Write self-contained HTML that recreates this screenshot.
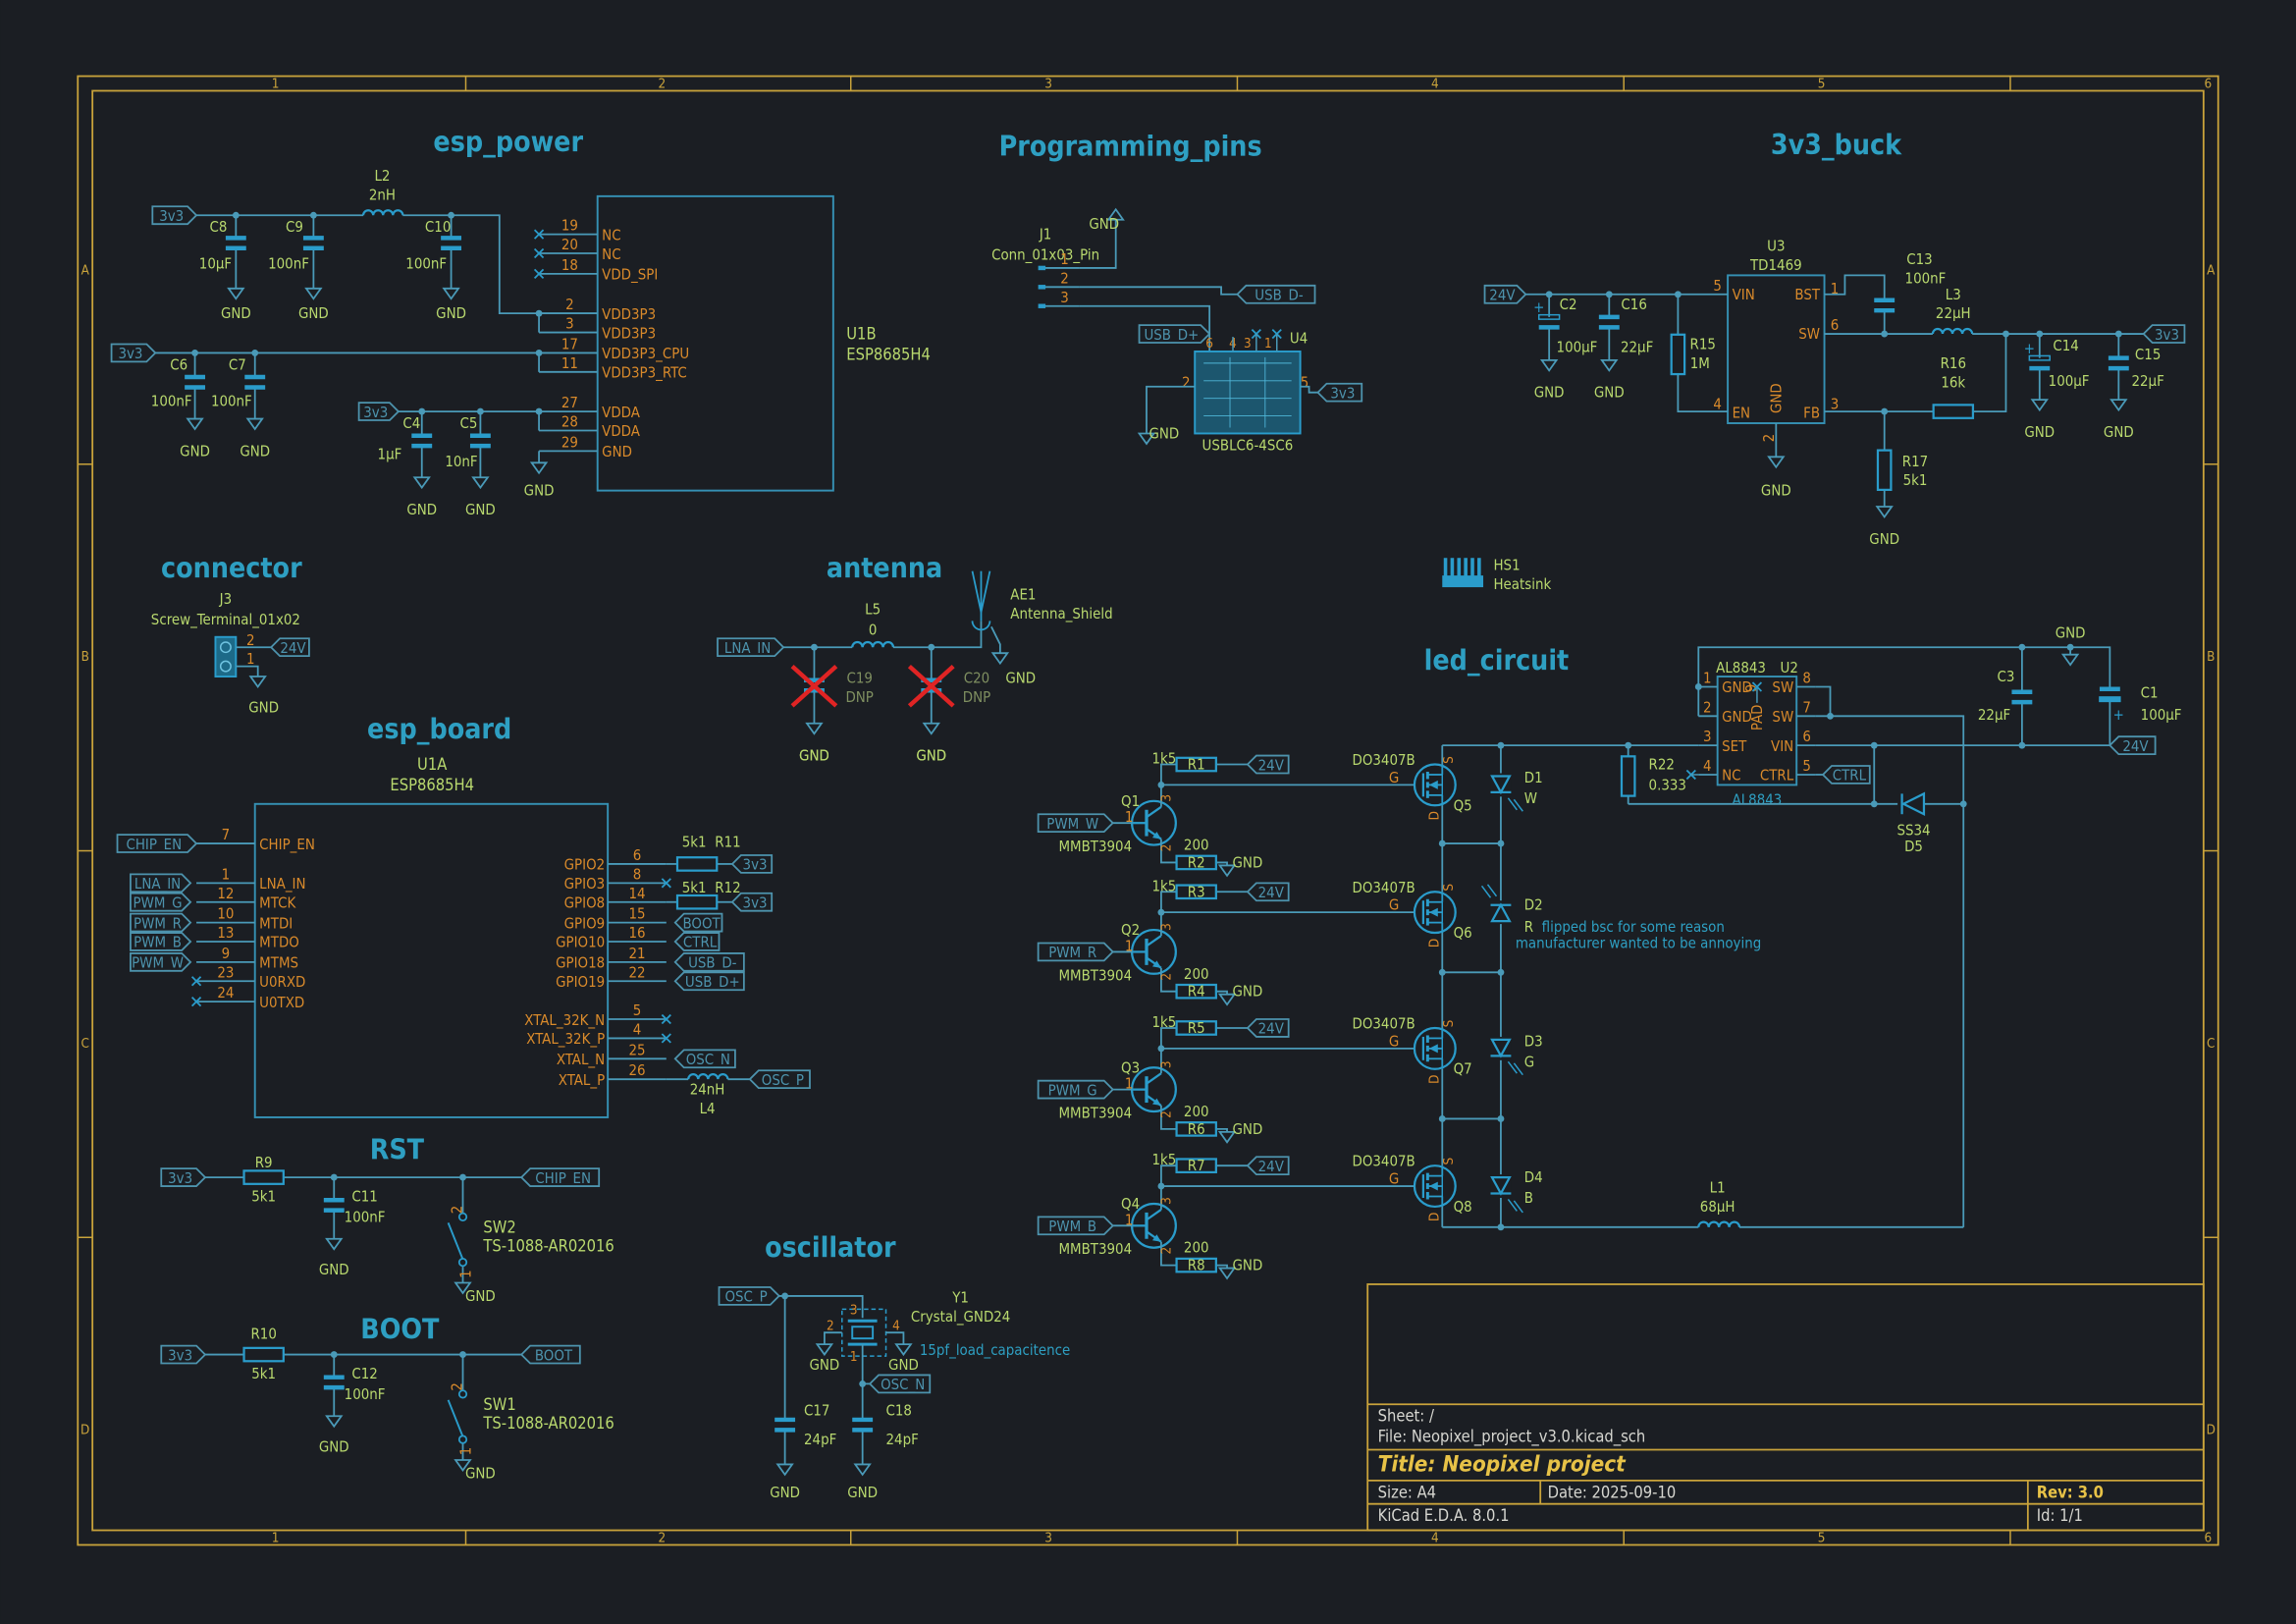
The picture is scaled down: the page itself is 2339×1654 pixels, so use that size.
<!DOCTYPE html>
<html><head><meta charset="utf-8"><style>
html,body{margin:0;padding:0;background:#1b1e23;}
svg{display:block}
text{font-family:"DejaVu Sans Condensed","DejaVu Sans","Liberation Sans",sans-serif;}
</style></head><body>
<svg id="s" xmlns="http://www.w3.org/2000/svg" width="2339" height="1654" viewBox="0 0 1568 1109">
<rect width="1568" height="1109" fill="#1b1e23"/>
</svg>
<script>
const S=document.getElementById('s');
const WC='#4a9ab8',BC='#2a9ccb',TV='#b8d86e',PN='#d98a2b',TL='#4d93ad',FR='#c9a33b',TT='#2e9fc2';
function el(tag,a,txt){const e=document.createElementNS('http://www.w3.org/2000/svg',tag);for(const k in a)e.setAttribute(k,a[k]);if(txt!==undefined)e.textContent=txt;S.appendChild(e);return e;}
function w(...p){el('polyline',{points:p.map(q=>q.join(',')).join(' '),fill:'none',stroke:WC,'stroke-width':1.2});}
function ln(x1,y1,x2,y2,c,sw){el('line',{x1,y1,x2,y2,stroke:c||BC,'stroke-width':sw||1.3});}
function j(x,y){el('circle',{cx:x,cy:y,r:2.3,fill:WC});}
function t(x,y,s,c,sz,an,wt,extra){const a={x,y,fill:c||TV,'font-size':sz||10,'text-anchor':an||'middle','dominant-baseline':'central'};if(wt)a['font-weight']=wt;if(extra)Object.assign(a,extra);return el('text',a,s);}
function g(x,y,ty,tx){el('polygon',{points:`${x-5},${y} ${x+5},${y} ${x},${y+7}`,fill:'none',stroke:WC,'stroke-width':1.2});if(ty)t(tx||x,ty,'GND');}
function cap(x,yc,y1,y2,pol){w([x,y1],[x,yc-3.5]);w([x,yc+3.5],[x,y2]);
 if(pol){el('rect',{x:x-7,y:yc-5,width:14,height:3,fill:'none',stroke:BC,'stroke-width':1});ln(x-7,yc+3.5,x+7,yc+3.5,BC,3);t(x-7,yc-10,'+',BC,10);}
 else{ln(x-7,yc-3.5,x+7,yc-3.5,BC,3);ln(x-7,yc+3.5,x+7,yc+3.5,BC,3);}}
function rh(cx,cy){el('rect',{x:cx-13.5,y:cy-4.5,width:27,height:9,fill:'none',stroke:BC,'stroke-width':1.5});}
function rv(cx,cy){el('rect',{x:cx-4.5,y:cy-13.5,width:9,height:27,fill:'none',stroke:BC,'stroke-width':1.5});}
function ind(x1,x2,y){const n=4,d=(x2-x1)/n;let p=`M${x1},${y}`;for(let i=0;i<n;i++)p+=` a${d/2},${d/2} 0 0 1 ${d},0`;el('path',{d:p,fill:'none',stroke:BC,'stroke-width':1.5});}
function lab(x1,x2,y,s,tip){let p;if(tip=='r')p=`${x1},${y-6} ${x2-6},${y-6} ${x2},${y} ${x2-6},${y+6} ${x1},${y+6}`;else p=`${x1},${y} ${x1+6},${y-6} ${x2},${y-6} ${x2},${y+6} ${x1+6},${y+6}`;
 el('polygon',{points:p,fill:'none',stroke:TL,'stroke-width':1.2});t((x1+x2)/2+(tip=='r'?-2:2),y+0.5,s,TL,10);}
function nc(x,y){ln(x-3,y-3,x+3,y+3,BC,1.2);ln(x-3,y+3,x+3,y-3,BC,1.2);}
function title(x,y,s){t(x,y,s,TT,19,'middle','bold');}

// ===== frame =====
el('rect',{x:53,y:52,width:1462,height:1003,fill:'none',stroke:FR,'stroke-width':1.2});
el('rect',{x:63,y:62,width:1442,height:983,fill:'none',stroke:FR,'stroke-width':1.2});
[318,581,845,1109,1373].forEach(x=>{ln(x,52,x,62,FR,1);ln(x,1045,x,1055,FR,1);});
[317,581,845].forEach(y=>{ln(53,y,63,y,FR,1);ln(1505,y,1515,y,FR,1);});
[188,452,716,980,1244,1508].forEach((x,i)=>{t(x,57.5,String(i+1),FR,9);t(x,1050.5,String(i+1),FR,9);});
['A','B','C','D'].forEach((c,i)=>{const y=185+i*264;t(58,y,c,FR,9);t(1510,y,c,FR,9);});

// ===== titles =====
title(347,97,'esp_power');title(772,100,'Programming_pins');title(1254,99,'3v3_buck');
title(158,388,'connector');title(604,388,'antenna');title(300,498,'esp_board');
title(271,785,'RST');title(273,908,'BOOT');title(567,852,'oscillator');title(1022,451,'led_circuit');

// ===== esp_power =====
lab(104,134,147,'3v3','r');
w([134,147],[248,147]);ind(248,275,147);w([275,147],[341,147],[341,214],[408,214]);
[161,214,308].forEach(x=>{j(x,147);cap(x,166,147,197);g(x,197,214);});
t(149,155,'C8');t(147,180,'10µF');t(201,155,'C9');t(197,180,'100nF');t(299,155,'C10');t(291,180,'100nF');
t(261,120,'L2');t(261,133,'2nH');
el('rect',{x:408,y:134,width:161,height:201,fill:'none',stroke:'#3590b3','stroke-width':1.3});
[[160,'19','NC',1],[173,'20','NC',1],[187,'18','VDD_SPI',1],[214,'2','VDD3P3'],[227,'3','VDD3P3'],[241,'17','VDD3P3_CPU'],[254,'11','VDD3P3_RTC'],[281,'27','VDDA'],[294,'28','VDDA'],[308,'29','GND']].forEach(([y,n,nm,x])=>{
 ln(368,y,408,y,WC,1.2);t(389,y-6,n,PN,10);t(411,y+0.5,nm,PN,10,'start');if(x)nc(368,y);});
j(368,214);w([368,214],[368,227]);j(368,241);w([368,241],[368,254]);j(368,281);w([368,281],[368,294]);
w([368,308],[368,316]);g(368,316,335);
t(578,228,'U1B',TV,11,'start');t(578,242,'ESP8685H4',TV,11,'start');
lab(76,106,241,'3v3','r');w([106,241],[368,241]);
[133,174].forEach(x=>{j(x,241);cap(x,261,241,286);g(x,286,308);});
t(122,249,'C6');t(117,274,'100nF');t(162,249,'C7');t(158,274,'100nF');
lab(245,272,281,'3v3','r');w([272,281],[368,281]);
[288,328].forEach(x=>{j(x,281);cap(x,301,281,326);g(x,326,348);});
t(281,289,'C4');t(266,310,'1µF');t(320,289,'C5');t(315,315,'10nF');

// ===== programming pins =====
t(714,160,'J1');t(714,174,'Conn_01x03_Pin');
[[183,'1'],[196,'2'],[209,'3']].forEach(([y,n])=>{ln(710,y,737,y,WC,1.2);el('rect',{x:709,y:y-1.5,width:5,height:3,fill:BC});t(727,y-6,n,PN,10);});
w([737,183],[762,183],[762,150]);el('polygon',{points:'757,150 767,150 762,143',fill:'none',stroke:WC,'stroke-width':1.2});t(754,153,'GND');
w([737,196],[834,196],[834,201],[845,201]);lab(845,898,201,'USB_D-','l');
w([737,209],[826,209],[826,240]);lab(778,826,228,'USB_D+','r');
el('rect',{x:816,y:240,width:72,height:56,fill:'#1d6a88','fill-opacity':0.75,stroke:BC,'stroke-width':1.3});
for(let i=0;i<4;i++){ln(822,248+i*12,882,248+i*12,'#4fb6d8',0.6);}
ln(840,244,840,292,'#4fb6d8',0.6);ln(864,244,864,292,'#4fb6d8',0.6);
[[826,'6'],[842,'4'],[852,'3'],[866,'1']].forEach(([x,n])=>t(x,235,n,PN,9));
nc(858,228);nc(872,228);ln(858,228,858,240,WC,1);ln(872,228,872,240,WC,1);ln(842,230,842,240,WC,1);
t(887,231,'U4');t(810,261,'2',PN,10);t(891,261,'5',PN,10);
w([816,264],[783,264],[783,296]);g(783,296);t(795,296,'GND');
w([888,264],[894,264],[894,268],[900,268]);lab(900,930,268,'3v3','l');
t(852,304,'USBLC6-4SC6');

// ===== 3v3 buck =====
t(1213,168,'U3');t(1213,181,'TD1469');
el('rect',{x:1180,y:188,width:66,height:101,fill:'none',stroke:'#3590b3','stroke-width':1.3});
t(1183,201,'VIN',PN,10,'start');t(1183,282,'EN',PN,10,'start');t(1243,201,'BST',PN,10,'end');t(1243,228,'SW',PN,10,'end');t(1243,282,'FB',PN,10,'end');
t(1213,272,'GND',PN,10,'middle',null,{transform:'rotate(-90 1213 272)'});
t(1173,195,'5',PN,10);t(1173,276,'4',PN,10);t(1253,197,'1',PN,10);t(1253,222,'6',PN,10);t(1253,276,'3',PN,10);t(1208,299,'2',PN,10,'middle',null,{transform:'rotate(-90 1208 299)'});
lab(1014,1042,201,'24V','r');w([1042,201],[1180,201]);
j(1058,201);cap(1058,220,201,246,1);g(1058,246,268);t(1071,208,'C2');t(1077,237,'100µF');
j(1099,201);cap(1099,220,201,246);g(1099,246,268);t(1116,208,'C16');t(1118,237,'22µF');
j(1146,201);w([1146,201],[1146,228]);rv(1146,242);w([1146,256],[1146,281],[1180,281]);t(1163,235,'R15');t(1161,248,'1M');
w([1213,289],[1213,312]);g(1213,312,335);
w([1246,201],[1260,201],[1260,188],[1287,188],[1287,205]);cap(1287,208.5,205,228);
w([1287,205],[1287,205]);t(1311,177,'C13');t(1315,190,'100nF');
w([1246,228],[1320,228]);ind(1320,1347,228);w([1347,228],[1464,228]);j(1287,228);j(1370,228);j(1393,228);j(1447,228);
lab(1464,1492,228,'3v3','l');t(1334,201,'L3');t(1334,214,'22µH');
cap(1393,248,228,273,1);g(1393,273,295);t(1411,236,'C14');t(1413,260,'100µF');
cap(1447,248,228,273);g(1447,273,295);t(1467,242,'C15');t(1467,260,'22µF');
w([1246,281],[1320,281]);rh(1334,281);w([1348,281],[1370,281],[1370,228]);j(1287,281);t(1334,248,'R16');t(1334,261,'16k');
w([1287,281],[1287,308]);rv(1287,321);w([1287,335],[1287,346]);g(1287,346,368);t(1308,315,'R17');t(1308,328,'5k1');

// heatsink
el('rect',{x:985,y:393,width:28,height:8,fill:BC});
for(let i=0;i<6;i++)el('rect',{x:986+i*4.6,y:381,width:2.4,height:13,fill:BC});
t(1020,386,'HS1',TV,10,'start');t(1020,399,'Heatsink',TV,10,'start');

// ===== connector =====
t(154,409,'J3');t(154,423,'Screw_Terminal_01x02');
el('rect',{x:147,y:435,width:14,height:27,fill:'#1d6a88',stroke:BC,'stroke-width':1.3});
el('circle',{cx:154,cy:442,r:3.5,fill:'none',stroke:'#6fc3e0','stroke-width':1});el('circle',{cx:154,cy:455,r:3.5,fill:'none',stroke:'#6fc3e0','stroke-width':1});
w([161,442],[185,442]);lab(185,211,442,'24V','l');t(171,437,'2',PN,10);t(171,450,'1',PN,10);
w([161,455],[176,455],[176,462]);g(176,462);t(180,483,'GND');

// ===== antenna =====
lab(490,535,442,'LNA_IN','r');w([535,442],[582,442]);ind(582,610,442);w([610,442],[670,442],[670,424]);
t(596,416,'L5');t(596,430,'0');
[556,636].forEach(x=>{j(x,442);cap(x,468,442,494);g(x,494,516);ln(x-15,455,x+15,482,'#e02424',3);ln(x-15,482,x+15,455,'#e02424',3);});
t(587,463,'C19','#7f8f60');t(587,476,'DNP','#7f8f60');t(667,463,'C20','#7f8f60');t(667,476,'DNP','#7f8f60');
t(556,516,'GND');t(636,516,'GND');
ln(670,390,670,424,BC,1.2);ln(670,418,664,390,BC,1.2);ln(670,418,676,390,BC,1.2);
el('path',{d:'M664,424 a6,6 0 0 0 12,0',fill:'none',stroke:BC,'stroke-width':1.2});
w([677,428],[683,440],[683,446]);g(683,446);t(697,463,'GND');
t(690,406,'AE1',TV,10,'start');t(690,419,'Antenna_Shield',TV,10,'start');

// ===== esp_board =====
t(295,522,'U1A',TV,11);t(295,536,'ESP8685H4',TV,11);
el('rect',{x:174,y:549,width:241,height:214,fill:'none',stroke:'#3590b3','stroke-width':1.3});
[[576,'7','CHIP_EN','CHIP_EN',80],[603,'1','LNA_IN','LNA_IN',89],[616,'12','MTCK','PWM_G',89],[630,'10','MTDI','PWM_R',89],[643,'13','MTDO','PWM_B',89],[657,'9','MTMS','PWM_W',89],[670,'23','U0RXD'],[684,'24','U0TXD']].forEach(([y,n,nm,l,x1])=>{
 ln(134,y,174,y,WC,1.2);t(154,y-6,n,PN,10);t(177,y+0.5,nm,PN,10,'start');
 if(l){lab(x1,x1==80?134:130,y,l,'r');}else nc(134,y);});
[[590,'6','GPIO2'],[603,'8','GPIO3'],[616,'14','GPIO8'],[630,'15','GPIO9'],[643,'16','GPIO10'],[657,'21','GPIO18'],[670,'22','GPIO19'],[696,'5','XTAL_32K_N'],[709,'4','XTAL_32K_P'],[723,'25','XTAL_N'],[737,'26','XTAL_P']].forEach(([y,n,nm])=>{
 ln(415,y,455,y,WC,1.2);t(435,y-6,n,PN,10);t(413,y+0.5,nm,PN,10,'end');});
nc(455,603);nc(455,696);nc(455,709);
w([455,590],[463,590]);rh(476,590);w([490,590],[500,590]);lab(500,527,590,'3v3','l');
w([455,616],[463,616]);rh(476,616);w([490,616],[500,616]);lab(500,527,616,'3v3','l');
t(474,575,'5k1');t(497,575,'R11');t(474,606,'5k1');t(497,606,'R12');
lab(461,493,630,'BOOT','l');lab(461,491,643,'CTRL','l');lab(461,508,657,'USB_D-','l');lab(461,508,670,'USB_D+','l');lab(461,502,723,'OSC_N','l');
w([455,737],[470,737]);ind(470,497,737);w([497,737],[512,737]);lab(512,553,737,'OSC_P','l');
t(483,744,'24nH');t(483,757,'L4');

// ===== RST / BOOT =====
function rstb(y,rn,cn,sn,lbl,lx2){
 lab(110,140,y,'3v3','r');w([140,y],[167,y]);rh(180,y);w([194,y],[356,y]);t(180,y-(rn=='R9'?10:14),rn);t(180,y+13,'5k1');
 j(228,y);cap(228,y+19,y,y+42);g(228,y+42,y+63);t(249,y+13,cn);t(249,y+27,'100nF');
 lab(356,lx2,y,lbl,'l');
 j(316,y);w([316,y],[316,y+24]);el('circle',{cx:316,cy:y+27,r:2.5,fill:'none',stroke:BC,'stroke-width':1.2});
 ln(316,y+56,306,y+31,BC,1.3);el('circle',{cx:316,cy:y+58,r:2.5,fill:'none',stroke:BC,'stroke-width':1.2});
 w([316,y+61],[316,y+72]);g(316,y+72);t(328,y+81,'GND');
 t(312,y+22,'2',PN,10,'middle',null,{transform:`rotate(-90 312 ${y+22})`});t(312,y+72,'1',PN,10,'middle',null,{transform:`rotate(-90 312 ${y+66})`});
 t(330,y+34,sn,TV,11,'start');t(330,y+47,'TS-1088-AR02016',TV,11,'start');}
rstb(804,'R9','C11','SW2','CHIP_EN',409);
rstb(925,'R10','C12','SW1','BOOT',396);

// ===== oscillator =====
lab(491,532,885,'OSC_P','r');w([532,885],[589,885],[589,900]);j(536,885);
cap(536,973,885,1000);g(536,1000,1019);t(549,963,'C17',TV,10,'start');t(549,983,'24pF',TV,10,'start');
el('rect',{x:575,y:894,width:30,height:32,fill:'none',stroke:BC,'stroke-width':1,'stroke-dasharray':'3,2'});
ln(579,902,599,902,BC,2);ln(579,918,599,918,BC,2);el('rect',{x:582,y:906,width:14,height:8,fill:'none',stroke:BC,'stroke-width':1.3});
w([589,918],[589,945],[594,945]);j(589,945);lab(594,635,945,'OSC_N','l');
w([575,910],[563,910],[563,918]);g(563,918);t(563,932,'GND');w([605,910],[617,910],[617,918]);g(617,918);t(617,932,'GND');
t(567,906,'2',PN,9);t(612,906,'4',PN,9);t(583,895,'3',PN,9);t(583,927,'1',PN,9);
cap(589,973,945,1000);g(589,1000,1019);t(605,963,'C18',TV,10,'start');t(605,983,'24pF',TV,10,'start');
t(656,886,'Y1');t(656,899,'Crystal_GND24');t(628,922,'15pf_load_capacitence',TT,10,'start');

// ===== led circuit =====
// AL8843
el('rect',{x:1173,y:462,width:54,height:74,fill:'none',stroke:'#3590b3','stroke-width':1.3});
t(1172,456,'AL8843',TV,10,'start');t(1222,456,'U2',TV,10);
[[469,'1','GND'],[489,'2','GND'],[509,'3','SET'],[529,'4','NC']].forEach(([y,n,nm])=>{ln(1160,y,1173,y,WC,1.2);t(1166,y-6,n,PN,10);t(1176,y+0.5,nm,PN,10,'start');});
[[469,'8','SW'],[489,'7','SW'],[509,'6','VIN'],[529,'5','CTRL']].forEach(([y,n,nm])=>{ln(1227,y,1240,y,WC,1.2);t(1234,y-6,n,PN,10);t(1225,y+0.5,nm,PN,10,'end');});
t(1200,490,'PAD',PN,10,'middle',null,{transform:'rotate(-90 1200 490)'});t(1196,470,'9',PN,10,'middle',null,{transform:'rotate(-90 1196 470)'});
ln(1200,470,1200,480,WC,1);nc(1200,469);nc(1155,529);ln(1155,529,1160,529,WC,1);
t(1200,546,'AL8843',TT,10);
w([1160,469],[1160,442],[1441,442],[1441,465]);j(1160,469);w([1160,469],[1160,489]);
j(1381,442);cap(1381,476,442,509);j(1414,442);w([1414,442],[1414,447]);g(1414,447);t(1414,432,'GND');
cap(1441,474,465,509,0);el('rect',{x:1434,y:476,width:14,height:3,fill:'none',stroke:BC,'stroke-width':1});t(1447,488,'+',BC,10);
t(1370,462,'C3');t(1362,488,'22µF');t(1462,473,'C1',TV,10,'start');t(1462,488,'100µF',TV,10,'start');
w([1240,509],[1441,509]);j(1280,509);j(1381,509);lab(1441,1472,509,'24V','l');
w([1240,469],[1250,469],[1250,489]);j(1250,489);w([1240,489],[1341,489],[1341,838]);
w([1240,529],[1245,529]);lab(1245,1277,529,'CTRL','l');
w([1280,509],[1280,549]);j(1280,549);w([1112,549],[1296,549]);w([1314,549],[1341,549]);j(1341,549);
el('polygon',{points:'1314,542 1314,556 1300,549',fill:'none',stroke:BC,'stroke-width':1.5});ln(1299,542,1299,556,BC,1.5);
t(1307,567,'SS34');t(1307,578,'D5');
w([985,509],[1160,509]);j(1025,509);j(1112,509);
w([1112,509],[1112,516]);rv(1112,530);w([1112,544],[1112,549]);t(1126,522,'R22',TV,10,'start');t(1126,536,'0.333',TV,10,'start');
// bottom & inductor
w([985,838],[1160,838]);ind(1160,1188,838);w([1188,838],[1341,838]);j(1025,838);t(1173,811,'L1');t(1173,824,'68µH');
// column segments
const qs=[536,623,716,810];
w([985,509],[985,522]);w([985,550],[985,609]);w([985,637],[985,702]);w([985,730],[985,796]);w([985,824],[985,838]);
[576,664,764].forEach(y=>{w([985,y],[1025,y]);j(985,y);j(1025,y);});
w([1025,509],[1025,838]);
function led(y,up){el('rect',{x:1018,y:y-8,width:14,height:16,fill:'#1b1e23'});
 if(!up){el('polygon',{points:`1019,${y-6} 1031,${y-6} 1025,${y+5}`,fill:'none',stroke:BC,'stroke-width':1.5});ln(1018,y+5,1032,y+5,BC,1.5);
  ln(1030,y+9,1036,y+17,BC,1);ln(1034,y+10,1040,y+18,BC,1);}
 else{el('polygon',{points:`1019,${y+6} 1031,${y+6} 1025,${y-5}`,fill:'none',stroke:BC,'stroke-width':1.5});ln(1018,y-5,1032,y-5,BC,1.5);
  ln(1018,y-10,1012,y-18,BC,1);ln(1022,y-11,1016,y-19,BC,1);}}
led(536);led(623,1);led(716);led(810);
t(1041,531,'D1',TV,10,'start');t(1041,545,'W',TV,10,'start');t(1041,618,'D2',TV,10,'start');t(1041,633,'R',TV,10,'start');
t(1053,633,'flipped bsc for some reason',TT,10,'start');t(1035,644,'manufacturer wanted to be annoying',TT,10,'start');
t(1041,711,'D3',TV,10,'start');t(1041,725,'G',TV,10,'start');t(1041,804,'D4',TV,10,'start');t(1041,818,'B',TV,10,'start');
const nets=[['PWM_W','R1','R2','Q1','Q5'],['PWM_R','R3','R4','Q2','Q6'],['PWM_G','R5','R6','Q3','Q7'],['PWM_B','R7','R8','Q4','Q8']];
const gy=[536,623,716,810],by=[562,650,744,837];
nets.forEach((n,i)=>{const G=gy[i],B=by[i],cx=788,ry=G-14,ey=B+27;
 // npn
 el('circle',{cx,cy:B,r:15,fill:'none',stroke:BC,'stroke-width':1.5});
 ln(cx-5,B-9,cx-5,B+9,BC,2.2);ln(cx-15,B,cx-5,B,BC,1.5);ln(cx-5,B-4,cx+5,B-11,BC,1.5);ln(cx-5,B+4,cx+5,B+11,BC,1.5);
 el('polygon',{points:`${cx+5},${B+11} ${cx-1},${B+10} ${cx+2},${B+6}`,fill:BC});
 w([cx+5,B-11],[cx+5,G]);w([cx+5,B+11],[cx+5,ey],[803,ey]);
 w([760,B],[773,B]);lab(709,760,B,n[0],'r');
 j(cx+5,G);w([cx+5,G],[cx+5,ry],[803,ry]);rh(817,ry);t(817,ry,n[1],TV,10);w([831,ry],[852,ry]);lab(852,880,ry,'24V','l');
 rh(817,ey);t(817,ey,n[2],TV,10);w([831,ey],[838,ey],[838,ey+2]);g(838,ey+2);t(852,ey,'GND',TV,10,'middle');
 t(795,ry-4,'1k5');t(817,ey-12,'200');t(cx-16,B-15,n[3]);t(cx-40,B+16,'MMBT3904');
 t(cx+9,B-17,'3',PN,9,'middle',null,{transform:`rotate(-90 ${cx+9} ${B-17})`});t(771,B-4,'1',PN,10);t(cx+9,B+17,'2',PN,9,'middle',null,{transform:`rotate(-90 ${cx+9} ${B+17})`});
 // mosfet
 w([cx+5,G],[966,G]);t(952,G-5,'G',PN,10);
 el('circle',{cx:980,cy:G,r:14,fill:'none',stroke:BC,'stroke-width':1.5});
 ln(972,G-8,972,G+8,BC,1.5);ln(975,G-9,975,G-4,BC,2);ln(975,G-2,975,G+2,BC,2);ln(975,G+4,975,G+9,BC,2);
 ln(975,G-7,985,G-7,BC,1.2);ln(975,G+7,985,G+7,BC,1.2);ln(975,G,985,G,BC,1.2);ln(985,G-14,985,G-7,BC,1.2);ln(985,G+7,985,G+14,BC,1.2);
 ln(985,G-7,985,G+7,BC,1);el('polygon',{points:`976,${G} 982,${G-3} 982,${G+3}`,fill:BC});
 t(945,G-17,'DO3407B');t(999,G+14,n[4]);
 t(990,G-17,'S',PN,9,'middle',null,{transform:`rotate(-90 990 ${G-17})`});t(980,G+21,'D',PN,9,'middle',null,{transform:`rotate(-90 980 ${G+21})`});
});

// ===== title block =====
el('rect',{x:934,y:877,width:571,height:168,fill:'none',stroke:FR,'stroke-width':1.2});
ln(934,959,1505,959,FR,1.2);ln(934,990,1505,990,FR,1.2);ln(934,1011,1505,1011,FR,1.2);ln(934,1027,1505,1027,FR,1.2);
ln(1052,1011,1052,1027,FR,1.2);ln(1385,1011,1385,1045,FR,1.2);
const TW='#d6d6d0';
t(941,967,'Sheet: /',TW,11,'start');t(941,981,'File: Neopixel_project_v3.0.kicad_sch',TW,11,'start');
t(941,1000,'Title: Neopixel project','#e7c247',15,'start','bold',{'font-style':'italic'});
t(941,1019,'Size: A4',TW,11,'start');t(1057,1019,'Date: 2025-09-10',TW,11,'start');t(1391,1019,'Rev: 3.0','#e7c247',11,'start','bold');
t(941,1035,'KiCad E.D.A. 8.0.1',TW,11,'start');t(1391,1035,'Id: 1/1',TW,11,'start');
</script>
</body></html>
